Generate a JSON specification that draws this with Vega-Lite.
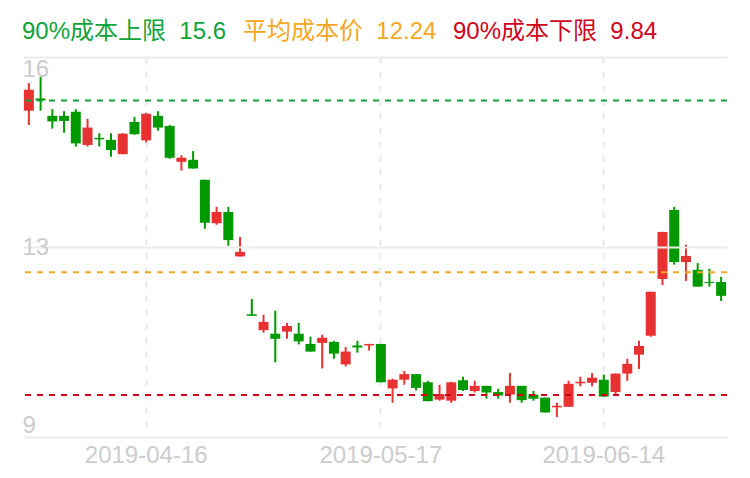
{
  "$schema": "https://vega.github.io/schema/vega-lite/v6.json",
  "width": 704,
  "height": 380,
  "autosize": {"type": "none"},
  "padding": {"left": 23, "top": 57, "right": 23, "bottom": 41},
  "background": "white",
  "config": {
    "view": {"stroke": null},
    "font": "Liberation Sans, Noto Sans CJK SC, sans-serif"
  },
  "data": {
    "values": [
      {"date": "2019-04-01", "open": 15.40, "close": 15.81, "high": 15.94, "low": 15.12},
      {"date": "2019-04-02", "open": 15.64, "close": 15.60, "high": 16.06, "low": 15.40},
      {"date": "2019-04-03", "open": 15.30, "close": 15.19, "high": 15.43, "low": 15.05},
      {"date": "2019-04-04", "open": 15.30, "close": 15.20, "high": 15.39, "low": 14.97},
      {"date": "2019-04-08", "open": 15.38, "close": 14.76, "high": 15.43, "low": 14.70},
      {"date": "2019-04-09", "open": 14.73, "close": 15.07, "high": 15.24, "low": 14.70},
      {"date": "2019-04-10", "open": 14.87, "close": 14.84, "high": 14.96, "low": 14.70},
      {"date": "2019-04-11", "open": 14.83, "close": 14.63, "high": 14.96, "low": 14.50},
      {"date": "2019-04-12", "open": 14.55, "close": 14.95, "high": 14.96, "low": 14.55},
      {"date": "2019-04-15", "open": 15.18, "close": 14.94, "high": 15.28, "low": 14.93},
      {"date": "2019-04-16", "open": 14.82, "close": 15.34, "high": 15.36, "low": 14.78},
      {"date": "2019-04-17", "open": 15.30, "close": 15.07, "high": 15.39, "low": 15.01},
      {"date": "2019-04-18", "open": 15.10, "close": 14.48, "high": 15.12, "low": 14.46},
      {"date": "2019-04-19", "open": 14.40, "close": 14.48, "high": 14.53, "low": 14.23},
      {"date": "2019-04-22", "open": 14.44, "close": 14.27, "high": 14.61, "low": 14.27},
      {"date": "2019-04-23", "open": 14.05, "close": 13.21, "high": 14.05, "low": 13.09},
      {"date": "2019-04-24", "open": 13.20, "close": 13.42, "high": 13.52, "low": 13.17},
      {"date": "2019-04-25", "open": 13.42, "close": 12.87, "high": 13.52, "low": 12.76},
      {"date": "2019-04-26", "open": 12.55, "close": 12.64, "high": 12.93, "low": 12.55},
      {"date": "2019-04-29", "open": 11.42, "close": 11.39, "high": 11.72, "low": 11.39},
      {"date": "2019-04-30", "open": 11.11, "close": 11.27, "high": 11.41, "low": 11.06},
      {"date": "2019-05-06", "open": 11.04, "close": 10.94, "high": 11.49, "low": 10.48},
      {"date": "2019-05-07", "open": 11.08, "close": 11.19, "high": 11.25, "low": 10.94},
      {"date": "2019-05-08", "open": 11.04, "close": 10.89, "high": 11.25, "low": 10.83},
      {"date": "2019-05-09", "open": 10.84, "close": 10.69, "high": 10.98, "low": 10.69},
      {"date": "2019-05-10", "open": 10.86, "close": 10.96, "high": 11.02, "low": 10.36},
      {"date": "2019-05-13", "open": 10.88, "close": 10.65, "high": 10.90, "low": 10.55},
      {"date": "2019-05-14", "open": 10.44, "close": 10.69, "high": 10.78, "low": 10.40},
      {"date": "2019-05-15", "open": 10.81, "close": 10.77, "high": 10.90, "low": 10.67},
      {"date": "2019-05-16", "open": 10.81, "close": 10.84, "high": 10.84, "low": 10.71},
      {"date": "2019-05-17", "open": 10.84, "close": 10.09, "high": 10.84, "low": 10.09},
      {"date": "2019-05-20", "open": 9.97, "close": 10.14, "high": 10.16, "low": 9.69},
      {"date": "2019-05-21", "open": 10.14, "close": 10.25, "high": 10.31, "low": 10.04},
      {"date": "2019-05-22", "open": 10.25, "close": 9.98, "high": 10.25, "low": 9.93},
      {"date": "2019-05-23", "open": 10.09, "close": 9.72, "high": 10.12, "low": 9.72},
      {"date": "2019-05-24", "open": 9.75, "close": 9.86, "high": 10.04, "low": 9.73},
      {"date": "2019-05-27", "open": 9.73, "close": 10.09, "high": 10.10, "low": 9.69},
      {"date": "2019-05-28", "open": 10.13, "close": 9.94, "high": 10.20, "low": 9.92},
      {"date": "2019-05-29", "open": 9.92, "close": 10.02, "high": 10.12, "low": 9.89},
      {"date": "2019-05-30", "open": 10.02, "close": 9.89, "high": 10.02, "low": 9.77},
      {"date": "2019-05-31", "open": 9.90, "close": 9.83, "high": 9.96, "low": 9.77},
      {"date": "2019-06-03", "open": 9.85, "close": 10.02, "high": 10.27, "low": 9.69},
      {"date": "2019-06-04", "open": 10.02, "close": 9.74, "high": 10.02, "low": 9.69},
      {"date": "2019-06-05", "open": 9.85, "close": 9.77, "high": 9.92, "low": 9.73},
      {"date": "2019-06-06", "open": 9.79, "close": 9.50, "high": 9.79, "low": 9.50},
      {"date": "2019-06-10", "open": 9.60, "close": 9.63, "high": 9.69, "low": 9.41},
      {"date": "2019-06-11", "open": 9.61, "close": 10.06, "high": 10.12, "low": 9.61},
      {"date": "2019-06-12", "open": 10.07, "close": 10.10, "high": 10.20, "low": 10.01},
      {"date": "2019-06-13", "open": 10.08, "close": 10.18, "high": 10.27, "low": 10.01},
      {"date": "2019-06-14", "open": 10.14, "close": 9.81, "high": 10.24, "low": 9.81},
      {"date": "2019-06-17", "open": 9.90, "close": 10.26, "high": 10.26, "low": 9.86},
      {"date": "2019-06-18", "open": 10.26, "close": 10.45, "high": 10.55, "low": 10.12},
      {"date": "2019-06-19", "open": 10.63, "close": 10.80, "high": 10.90, "low": 10.35},
      {"date": "2019-06-20", "open": 11.00, "close": 11.86, "high": 11.86, "low": 10.98},
      {"date": "2019-06-21", "open": 12.11, "close": 13.03, "high": 13.03, "low": 11.99},
      {"date": "2019-06-24", "open": 13.46, "close": 12.44, "high": 13.52, "low": 12.39},
      {"date": "2019-06-25", "open": 12.44, "close": 12.56, "high": 12.78, "low": 12.07},
      {"date": "2019-06-26", "open": 12.29, "close": 11.96, "high": 12.42, "low": 11.96},
      {"date": "2019-06-27", "open": 12.05, "close": 12.03, "high": 12.31, "low": 11.96},
      {"date": "2019-06-28", "open": 12.05, "close": 11.78, "high": 12.15, "low": 11.68}
    ]
  },
  "layer": [
    {
      "mark": {"type": "rule", "strokeWidth": 2},
      "encoding": {
        "x": {
          "field": "date", "type": "ordinal", "sort": null, "title": null,
          "scale": {"paddingInner": 0, "paddingOuter": 0},
          "axis": {
            "values": ["2019-04-16", "2019-05-17", "2019-06-14"],
            "grid": true, "gridDash": [6, 8], "gridColor": "#e8e8e8", "gridWidth": 2,
            "domain": false, "ticks": false, "labelAngle": 0, "labelFontSize": 24,
            "labelColor": "#cccccc", "labelPadding": 6, "bandPosition": 0.5, "zindex": 0
          }
        },
        "y": {
          "field": "low", "type": "quantitative", "title": null,
          "scale": {"domain": [9.02, 16.45], "zero": false, "nice": false},
          "axis": {
            "values": [9.02, 12.735, 16.45],
            "labelExpr": "format(datum.value, '.0f')",
            "grid": true, "gridColor": "#ebebeb", "gridWidth": 2,
            "domain": false, "ticks": false, "labelAlign": "left", "labelPadding": 1,
            "labelFlush": true, "labelFontSize": 24, "labelColor": "#cccccc", "zindex": 1
          }
        },
        "y2": {"field": "high"},
        "color": {"condition": {"test": "datum.close >= datum.open", "value": "#e83232"}, "value": "#009a00"}
      }
    },
    {
      "mark": {"type": "bar", "size": 10},
      "encoding": {
        "x": {"field": "date", "type": "ordinal", "sort": null, "title": null},
        "y": {"field": "open", "type": "quantitative", "title": null},
        "y2": {"field": "close"},
        "color": {"condition": {"test": "datum.close >= datum.open", "value": "#e83232"}, "value": "#009a00"}
      }
    },
    {
      "data": {
        "values": [
          {"name": "90%成本上限\u00a0\u00a015.6", "value": 15.6},
          {"name": "平均成本价\u00a0\u00a012.24", "value": 12.24},
          {"name": "90%成本下限\u00a0\u00a09.84", "value": 9.84}
        ]
      },
      "mark": {"type": "rule", "strokeWidth": 2, "strokeDash": [6, 6]},
      "encoding": {
        "y": {"field": "value", "type": "quantitative", "title": null},
        "color": {
          "field": "name", "type": "nominal",
          "scale": {
            "domain": ["90%成本上限\u00a0\u00a015.6", "平均成本价\u00a0\u00a012.24", "90%成本下限\u00a0\u00a09.84"],
            "range": ["#0fa33a", "#f5a623", "#d0021b"]
          },
          "legend": {
            "orient": "none", "legendX": -25, "legendY": -37, "direction": "horizontal",
            "gridAlign": "none",
            "title": null, "symbolSize": 0, "symbolStrokeWidth": 0, "symbolOpacity": 0,
            "labelOffset": 0, "columnPadding": -8, "labelFontSize": 24, "labelLimit": 400,
            "padding": 0,
            "encode": {"labels": {"update": {"fill": {"scale": "color", "field": "value"}}}}
          }
        }
      }
    }
  ]
}
